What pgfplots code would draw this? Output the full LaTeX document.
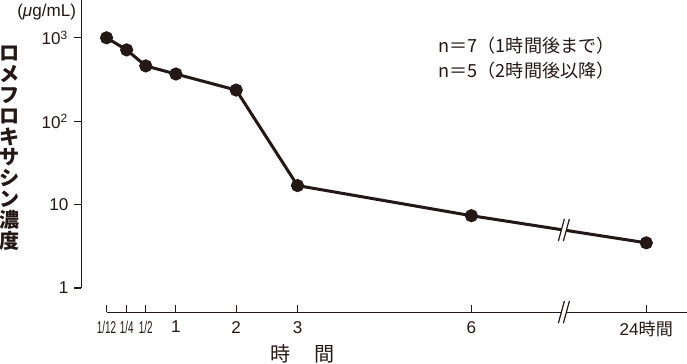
\documentclass[border=0pt]{standalone}
\usepackage{fontspec}
\setmainfont{Liberation Sans}
\newfontfamily\cjk{Noto Sans CJK JP}
\newfontfamily\narrowf[FakeStretch=0.58]{Liberation Sans}
\usepackage{pgfplots}
\pgfplotsset{compat=1.18}
\definecolor{ink}{HTML}{231815}
\begin{document}
\begin{tikzpicture}
\begin{axis}[
  scale only axis, width=301pt, height=155pt,
  xmin=0, xmax=602, ymode=log, ymin=0.514, ymax=2800,
  axis x line=bottom, axis y line=left,
  axis line style={draw=none},
  clip=false,
  tick align=inside, major tick length=3.5pt,
  tick style={ink, line width=0.5pt},
  ytick style={xshift=-3.5pt},
  yminorticks=false, xminorticks=false,
  ytick={1,10,100,1000},
  yticklabels={1,10,{10\textsuperscript{2}},{10\textsuperscript{3}}},
  yticklabel style={font=\fontsize{8.5}{10}\selectfont, xshift=-3pt, text=ink},
  xtick={25,45,64,94,154,215,388,562},
  xticklabels={{\narrowf 1/12},{\narrowf 1/4},{\narrowf 1/2},1,2,3,6,{24{\cjk 時間}}},
  xticklabel style={font=\fontsize{8.5}{10}\selectfont, text=ink, yshift=-1pt},
]
% axis lines
\draw[ink, line width=0.5pt] (axis cs:0,1) -- (axis cs:0,2800);
\draw[ink, line width=0.5pt] (axis cs:25,0.514) -- (axis cs:602,0.514);
% data
\addplot[ink, line width=1.5pt, mark=*, mark size=2.5pt, mark options={fill=ink}]
  coordinates {(25,1000) (45,716) (64,460) (94,368) (154,236) (215,16.9) (388,7.36) (562,3.48)};
% breaks
\fill[white, shift={(axis cs:480,0.514)}] (-2.75pt,-5.5pt) -- (0.25pt,5.5pt) -- (2.75pt,5.5pt) -- (-0.25pt,-5.5pt) -- cycle;
\draw[ink, line width=0.6pt, shift={(axis cs:480,0.514)}] (-2.75pt,-5.5pt) -- (0.25pt,5.5pt) (-0.25pt,-5.5pt) -- (2.75pt,5.5pt);
\fill[white, shift={(axis cs:480,4.96)}] (-2.75pt,-5.5pt) -- (0.25pt,5.5pt) -- (2.75pt,5.5pt) -- (-0.25pt,-5.5pt) -- cycle;
\draw[ink, line width=0.6pt, shift={(axis cs:480,4.96)}] (-2.75pt,-5.5pt) -- (0.25pt,5.5pt) (-0.25pt,-5.5pt) -- (2.75pt,5.5pt);
% texts
\node[anchor=north east, inner sep=0pt, text=ink, font=\fontsize{8.5}{10}\selectfont] at (axis cs:-5,2800) [yshift=-1.5pt] {(\textit{μ}g/mL)};
\node[anchor=west, inner sep=0pt, text=ink, font=\cjk\fontsize{9}{10}\selectfont] at (axis cs:355,801) {n＝7（1時間後まで）};
\node[anchor=west, inner sep=0pt, text=ink, font=\cjk\fontsize{9}{10}\selectfont] at (axis cs:355,400) {n＝5（2時間後以降）};
\node[anchor=center, align=center, inner sep=0pt, text=ink, font=\cjk\bfseries\fontsize{10}{10.35}\selectfont] at (axis cs:-71,47.3) {ロ\\メ\\フ\\ロ\\キ\\サ\\シ\\ン\\濃\\度};
\node[anchor=center, inner sep=0pt, text=ink, font=\cjk\fontsize{10}{12}\selectfont] at (axis cs:220,0.514) [yshift=-21pt] {時\hspace{1.2em}間};
\end{axis}
\end{tikzpicture}
\end{document}
